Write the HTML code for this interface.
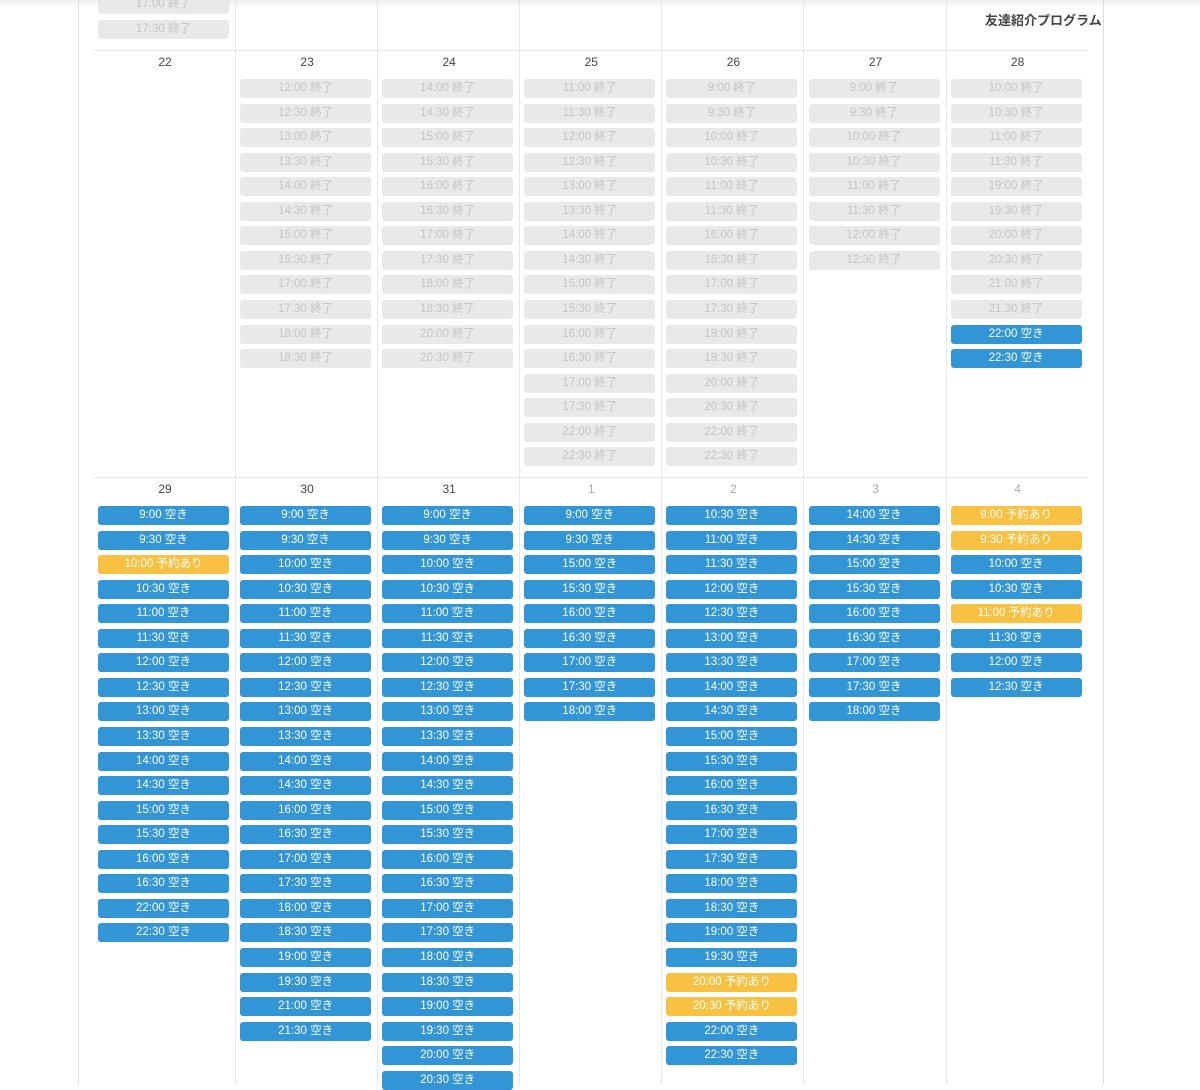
<!DOCTYPE html>
<html><head><meta charset="utf-8">
<style>
*{margin:0;padding:0;box-sizing:border-box}
body{width:1200px;height:1084px;overflow:hidden;background:#fff;font-family:"Liberation Sans","Noto Sans CJK JP",sans-serif;position:relative}
.top{position:absolute;left:0;top:0;width:1200px;height:7px;background:linear-gradient(#eee,#fff)}
.vl{position:absolute;top:0;width:1px;height:1084px;background:#ddd}
.cl{position:absolute;width:1px;background:#e8e8e8}
.hl{position:absolute;left:94px;width:994px;height:1px;background:#e6e6e6}
.d{position:absolute;width:142px;text-align:center;font-size:12px;color:#444}
.d.g{color:#aaa}
.b{position:absolute;width:131px;height:19px;border-radius:3px;font-size:11.5px;line-height:19px;text-align:center;color:#fff}
.e{background:#e9e9e9;color:#c4c4c4}
.a{background:#3296d6}
.y{background:#f9c142}
.t{position:absolute;left:985px;top:10px;font-size:13px;font-weight:bold;color:#444}
</style></head><body>
<div class="top"></div>
<div class="vl" style="left:78px"></div>
<div class="vl" style="left:1103px"></div>
<div class="t">友達紹介プログラム</div>
<div id="c"></div>
<script>
var c=document.getElementById('c'),h='';
var P=24.55,W=142.1;
function col(i,y0,y1){h+='<div class="cl" style="left:'+(235+W*i).toFixed(1)+'px;top:'+y0+'px;height:'+(y1-y0)+'px"></div>';}
for(var i=0;i<6;i++){col(i,0,1084);}
h+='<div class="hl" style="top:50px"></div><div class="hl" style="top:477px"></div>';
function btn(i,top,txt,cls){h+='<div class="b '+cls+'" style="left:'+(98+W*i).toFixed(1)+'px;top:'+top.toFixed(1)+'px">'+txt+'</div>';}
btn(0,-5,'17:00 終了','e');btn(0,20,'17:30 終了','e');
function week(y,days,gray){
 days.forEach(function(d,i){
  h+='<div class="d'+(gray&&gray[i]?' g':'')+'" style="left:'+(94+W*i).toFixed(1)+'px;top:'+(y+5)+'px">'+d[0]+'</div>';
  d[1].forEach(function(s,k){
   var p=s.split('|'),cls=p[1]||'e',lab=cls=='e'?'終了':cls=='a'?'空き':'予約あり';
   btn(i,y+29+k*P,p[0]+' '+lab,cls);
  });
 });
}
function r(a,b,suf){var o=[];for(var m=a;m<=b;m+=30){o.push(Math.floor(m/60)+':'+(m%60?'30':'00')+(suf||''));}return o;}
function t(s){var x=s.split(':');return x[0]*60+ +x[1];}
function R(a,b,suf){return r(t(a),t(b),suf);}
week(50,[
['22',[]],
['23',R('12:00','15:30').concat(R('17:00','18:30'))],
['24',R('14:00','18:30').concat(['20:00','20:30'])],
['25',R('11:00','17:30').concat(['22:00','22:30'])],
['26',R('9:00','11:30').concat(R('16:00','17:30'),R('19:00','20:30'),['22:00','22:30'])],
['27',R('9:00','12:30')],
['28',R('10:00','11:30').concat(R('19:00','21:30'),['22:00|a','22:30|a'])]
]);
week(477,[
['29',R('9:00','9:30','|a').concat(['10:00|y'],R('10:30','16:30','|a'),['22:00|a','22:30|a'])],
['30',R('9:00','14:30','|a').concat(R('16:00','19:30','|a'),['21:00|a','21:30|a'])],
['31',R('9:00','20:30','|a')],
['1',['9:00|a','9:30|a'].concat(R('15:00','18:00','|a'))],
['2',R('10:30','19:30','|a').concat(['20:00|y','20:30|y','22:00|a','22:30|a'])],
['3',R('14:00','18:00','|a')],
['4',['9:00|y','9:30|y','10:00|a','10:30|a','11:00|y','11:30|a','12:00|a','12:30|a']]
],[0,0,0,1,1,1,1]);
c.innerHTML=h;
</script>
</body></html>
